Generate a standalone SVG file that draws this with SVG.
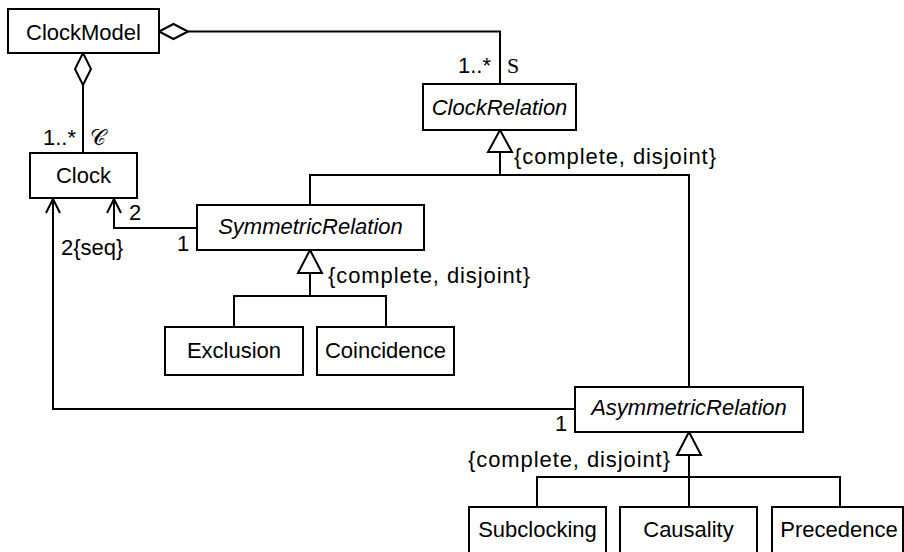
<svg xmlns="http://www.w3.org/2000/svg" width="904" height="552" viewBox="0 0 904 552">
  <style>
    .box { fill: #ffffff; stroke: #000000; stroke-width: 2; }
    .line { fill: none; stroke: #000000; stroke-width: 2; }
    .diamond { fill: #ffffff; stroke: #000000; stroke-width: 2; }
    .tri { fill: #ffffff; stroke: #000000; stroke-width: 2; stroke-linejoin: miter; }
    .name { font-family: "Liberation Sans", Arial, sans-serif; font-size: 22px; fill: #000000; text-anchor: middle; }
    .abstract { font-style: italic; }
    .label { font-family: "Liberation Sans", Arial, sans-serif; font-size: 22px; fill: #000000; }
    .math { font-family: "Liberation Serif", "DejaVu Serif", serif; font-size: 22px; fill: #000000; }
  </style>
  <rect width="904" height="552" fill="#ffffff"/>

  <!-- connectors -->
  <g id="connectors">
    <!-- ClockModel aggregates ClockRelation -->
    <polyline class="line" points="188,31.5 500,31.5 500,84"/>
    <polygon class="diamond" points="159,31.5 173.5,24 188,31.5 173.5,39"/>
    <!-- ClockModel aggregates Clock -->
    <line class="line" x1="83" y1="85" x2="83" y2="153"/>
    <polygon class="diamond" points="83,53 91,69 83,85 75,69"/>

    <!-- generalization under ClockRelation -->
    <line class="line" x1="500" y1="152" x2="500" y2="175"/>
    <polyline class="line" points="310,205 310,175 689,175 689,387"/>
    <polygon class="tri" points="500,130 512,152 488,152"/>

    <!-- SymmetricRelation navigates to Clock -->
    <polyline class="line" points="197,228 114,228 114,199"/>
    <polyline class="line" points="107,213 114,199 121,213"/>

    <!-- AsymmetricRelation navigates to Clock -->
    <polyline class="line" points="575,409 53,409 53,199"/>
    <polyline class="line" points="46,213 53,199 60,213"/>

    <!-- generalization under SymmetricRelation -->
    <line class="line" x1="310" y1="273" x2="310" y2="296"/>
    <polyline class="line" points="234,327 234,296 386,296 386,327"/>
    <polygon class="tri" points="310,250 322,273 298,273"/>

    <!-- generalization under AsymmetricRelation -->
    <line class="line" x1="689" y1="455" x2="689" y2="507"/>
    <polyline class="line" points="537,507 537,477 840,477 840,507"/>
    <polygon class="tri" points="689,432 701,455 677,455"/>
  </g>

  <!-- association and constraint labels -->
  <g id="labels">
    <text class="label" x="491" y="73" text-anchor="end">1..*</text>
    <text class="math" x="507" y="73">S</text>
    <text class="label" x="76" y="145" text-anchor="end">1..*</text>
    <text class="math" x="90" y="145">𝒞</text>
    <text class="label" x="514" y="164" textLength="202" lengthAdjust="spacing">{complete, disjoint}</text>
    <text class="label" x="129" y="220">2</text>
    <text class="label" x="177" y="251">1</text>
    <text class="label" x="61" y="255">2{seq}</text>
    <text class="label" x="328" y="283" textLength="202" lengthAdjust="spacing">{complete, disjoint}</text>
    <text class="label" x="555" y="431">1</text>
    <text class="label" x="468" y="467" textLength="202" lengthAdjust="spacing">{complete, disjoint}</text>
  </g>

  <!-- classes -->
  <g id="ClockModel">
    <rect class="box" x="8" y="9" width="151" height="44"/>
    <text class="name" x="83.5" y="40">ClockModel</text>
  </g>
  <g id="Clock">
    <rect class="box" x="30" y="153" width="107" height="45"/>
    <text class="name" x="83.5" y="183">Clock</text>
  </g>
  <g id="ClockRelation">
    <rect class="box" x="423" y="84" width="153" height="46"/>
    <text class="name abstract" x="499.5" y="115">ClockRelation</text>
  </g>
  <g id="SymmetricRelation">
    <rect class="box" x="197" y="205" width="227" height="45"/>
    <text class="name abstract" x="310.5" y="234">SymmetricRelation</text>
  </g>
  <g id="Exclusion">
    <rect class="box" x="165" y="327" width="138" height="48"/>
    <text class="name" x="234" y="358">Exclusion</text>
  </g>
  <g id="Coincidence">
    <rect class="box" x="317" y="327" width="137" height="48"/>
    <text class="name" x="385.5" y="358">Coincidence</text>
  </g>
  <g id="AsymmetricRelation">
    <rect class="box" x="575" y="387" width="228" height="45"/>
    <text class="name abstract" x="689" y="415">AsymmetricRelation</text>
  </g>
  <g id="Subclocking">
    <rect class="box" x="469" y="507" width="137" height="60"/>
    <text class="name" x="537.5" y="537">Subclocking</text>
  </g>
  <g id="Causality">
    <rect class="box" x="620" y="507" width="137" height="60"/>
    <text class="name" x="688.5" y="537">Causality</text>
  </g>
  <g id="Precedence">
    <rect class="box" x="772" y="507" width="131" height="60"/>
    <text class="name" x="839" y="537">Precedence</text>
  </g>
</svg>
